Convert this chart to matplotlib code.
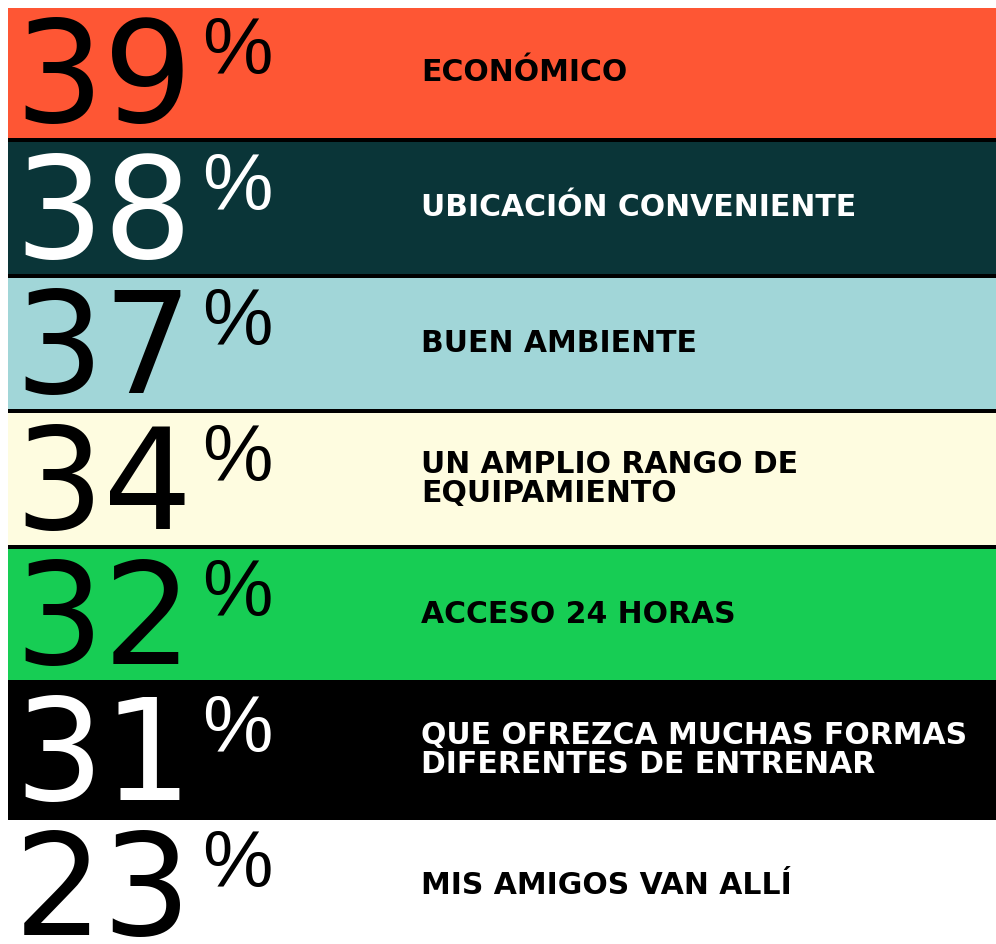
import matplotlib
matplotlib.use("Agg")
import matplotlib.pyplot as plt
from matplotlib.transforms import blended_transform_factory, offset_copy

# data
percentages = [39, 38, 37, 34, 32, 31, 23]
labels = ["ECONÓMICO", "UBICACIÓN CONVENIENTE", "BUEN AMBIENTE",
          "UN AMPLIO RANGO DE\nEQUIPAMIENTO", "ACCESO 24 HORAS",
          "QUE OFREZCA MUCHAS FORMAS\nDIFERENTES DE ENTRENAR", "MIS AMIGOS VAN ALLÍ"]
band_colors = ["#FE5634", "#0A3538", "#A1D6D8", "#FEFCE0", "#17CD54", "#000000", "#FFFFFF"]
text_colors = ["#000000", "#FFFFFF", "#000000", "#000000", "#000000", "#FFFFFF", "#000000"]

W, H = 996, 944
row_px = 135.5          # height of one band in pixels
first_sep = 140         # pixel row of the first separator line
fig = plt.figure(figsize=(W / 100, H / 100), dpi=100)
ax = fig.add_axes([8 / W, 0, (W - 8) / W, (H - 8) / H])
ax.set_facecolor("#000000")
for s in ax.spines.values():
    s.set_visible(False)
ax.set_xticks([])
ax.set_yticks([])

rows = list(range(len(percentages)))
gap = 4 / row_px
ax.barh(rows, [1] * len(rows), height=1 - gap, left=0, color=band_colors)
ax.set_xlim(0, 1)
ax.set_ylim(0.5 + (H - first_sep) / row_px, 0.5 - (first_sep - 8) / row_px)

tr = blended_transform_factory(ax.transAxes, ax.transData)
num_fs = 101
em = num_fs * 100 / 72
shift = 2                                  # move digits up a little
digit_top = 0.755 * em - 0.37 * em + shift  # above band centre, px
pct_fs = 57
pct_h = 0.735 * pct_fs * 100 / 72

fig.canvas.draw()
renderer = fig.canvas.get_renderer()
for i, (p, lab) in enumerate(zip(percentages, labels)):
    num_tr = offset_copy(tr, fig=fig, x=0, y=-0.37 * em + shift, units="dots")
    t = ax.text(6 / 988, i, str(p), transform=num_tr, fontsize=num_fs,
                family="DejaVu Sans", color=text_colors[i], ha="left", va="baseline")
    bb = t.get_window_extent(renderer)
    # percent sign, top aligned with the digits
    xd = ax.transAxes.inverted().transform((bb.x1 + 10, 0))[0]
    pct_tr = offset_copy(tr, fig=fig, x=0, y=digit_top - pct_h, units="dots")
    ax.text(xd, i, "%", transform=pct_tr, fontsize=pct_fs, family="Liberation Sans",
            color=text_colors[i], ha="left", va="baseline")
    ax.text(413 / 988, i, lab, transform=tr, fontsize=21.5, family="DejaVu Sans",
            fontweight="bold", color=text_colors[i], ha="left", va="center",
            linespacing=1.0)

fig.savefig("out.png", dpi=100)
